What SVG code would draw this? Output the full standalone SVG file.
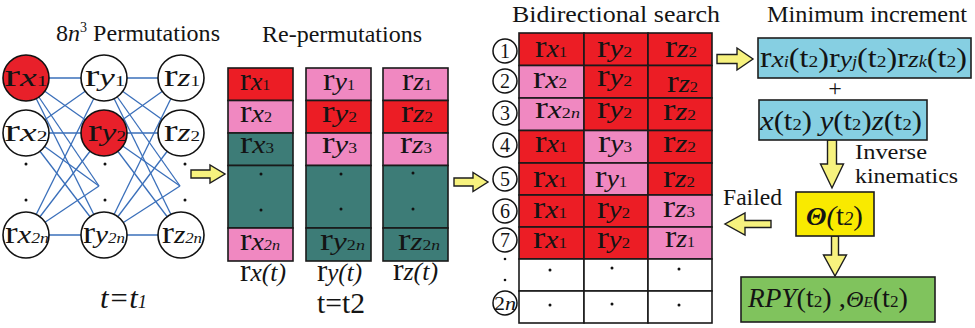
<svg xmlns="http://www.w3.org/2000/svg" width="975" height="328" viewBox="0 0 975 328" font-family="'Liberation Serif','DejaVu Serif',serif">
<style>
text{font-family:'Liberation Serif','DejaVu Serif',serif;fill:#141414}
.ttl{font-size:24px}
.R{font-size:32px}
.V{font-size:26px;font-style:italic}
.S{font-size:15px}
.Si{font-size:15px;font-style:italic}
.nd{fill:#fff;stroke:#111;stroke-width:1.6}
.nr{fill:#e8202a;stroke:#111;stroke-width:1.6}
.e{stroke:#3a6fba;stroke-width:1.3;fill:none}
.cr{fill:#ec1d25}
.cp{fill:#f088c1}
.ct{fill:#3d7c77}
.cw{fill:#fff}
.cell{stroke:#1a1a1a;stroke-width:1.6}
.arw{fill:#f7f27e;stroke:#1e1e1e;stroke-width:1.4;stroke-linejoin:miter}
.num{fill:#fff;stroke:#111;stroke-width:1.5}
.nt{font-size:20px}
.dot{fill:#111}
.bx{stroke:#1e1e1e;stroke-width:1.6}
</style>

<!-- Titles -->
<text class="ttl" x="56" y="41" textLength="164" lengthAdjust="spacingAndGlyphs">8<tspan font-style="italic">n</tspan><tspan dy="-9" font-size="14">3</tspan><tspan dy="9"> Permutations</tspan></text>
<text class="ttl" x="262" y="42" textLength="160" lengthAdjust="spacingAndGlyphs">Re-permutations</text>
<text class="ttl" x="512" y="22" font-size="25" textLength="208" lengthAdjust="spacingAndGlyphs">Bidirectional search</text>
<text class="ttl" x="767" y="22" textLength="200" lengthAdjust="spacingAndGlyphs">Minimum increment</text>

<!-- Connectors -->
<g id="connectors">
  <g id="edges-xy">
    <line class="e" x1="26" y1="78" x2="104" y2="78"/>
    <line class="e" x1="26" y1="78" x2="104" y2="133"/>
    <line class="e" x1="26" y1="78" x2="99" y2="186"/>
    <line class="e" x1="26" y1="78" x2="104" y2="235"/>
    <line class="e" x1="26" y1="133" x2="104" y2="78"/>
    <line class="e" x1="26" y1="133" x2="104" y2="133"/>
    <line class="e" x1="26" y1="133" x2="99" y2="186"/>
    <line class="e" x1="26" y1="133" x2="104" y2="235"/>
    <line class="e" x1="26" y1="235" x2="104" y2="78"/>
    <line class="e" x1="26" y1="235" x2="104" y2="133"/>
    <line class="e" x1="26" y1="235" x2="99" y2="186"/>
    <line class="e" x1="26" y1="235" x2="104" y2="235"/>
  </g>
  <g id="edges-yz">
    <line class="e" x1="104" y1="78" x2="181" y2="78"/>
    <line class="e" x1="104" y1="78" x2="181" y2="133"/>
    <line class="e" x1="104" y1="78" x2="180" y2="186"/>
    <line class="e" x1="104" y1="78" x2="181" y2="235"/>
    <line class="e" x1="104" y1="133" x2="181" y2="78"/>
    <line class="e" x1="104" y1="133" x2="181" y2="133"/>
    <line class="e" x1="104" y1="133" x2="180" y2="186"/>
    <line class="e" x1="104" y1="133" x2="181" y2="235"/>
    <line class="e" x1="104" y1="235" x2="181" y2="78"/>
    <line class="e" x1="104" y1="235" x2="181" y2="133"/>
    <line class="e" x1="104" y1="235" x2="180" y2="186"/>
    <line class="e" x1="104" y1="235" x2="181" y2="235"/>
  </g>
  <path id="arrow-perm" class="arw" d="M191,170 L210,170 L210,165 L225,174 L210,183 L210,178 L191,178 Z"/>
  <path id="arrow-search" class="arw" d="M454,178 L473,178 L473,172.5 L488,182 L473,191.5 L473,186 L454,186 Z"/>
  <path id="arrow-min" class="arw" d="M717,54.5 L737,54.5 L737,48 L753,59 L737,70 L737,63.5 L717,63.5 Z"/>
  <path id="arrow-ik" class="arw" d="M827.5,140 L836.5,140 L836.5,164 L843.5,164 L832,188 L820.5,164 L827.5,164 Z"/>
  <path id="arrow-rpy" class="arw" d="M831.5,236 L838.5,236 L838.5,255 L846.5,255 L835,276 L823.5,255 L831.5,255 Z"/>
  <path id="arrow-failed" class="arw" d="M771,220.5 L745,220.5 L745,213 L725,224 L745,235 L745,227.5 L771,227.5 Z"/>
</g>

<!-- Network nodes -->
<g id="n-rx1"><circle class="nr" cx="26" cy="78" r="23"/><text x="26" y="86" text-anchor="middle" textLength="43" lengthAdjust="spacingAndGlyphs"><tspan class="R">r</tspan><tspan class="V">x</tspan><tspan class="S">1</tspan></text></g>
<g id="n-rx2"><circle class="nd" cx="26" cy="133" r="23"/><text x="26" y="141" text-anchor="middle" textLength="43" lengthAdjust="spacingAndGlyphs"><tspan class="R">r</tspan><tspan class="V">x</tspan><tspan class="S">2</tspan></text></g>
<g id="n-rx2n"><circle class="nd" cx="26" cy="235" r="23"/><text x="27" y="243" text-anchor="middle" textLength="44" lengthAdjust="spacingAndGlyphs"><tspan class="R">r</tspan><tspan class="V">x</tspan><tspan class="Si">2n</tspan></text></g>
<g id="n-ry1"><circle class="nd" cx="104" cy="78" r="23"/><text x="105" y="86" text-anchor="middle" textLength="40" lengthAdjust="spacingAndGlyphs"><tspan class="R">r</tspan><tspan class="V">y</tspan><tspan class="S">1</tspan></text></g>
<g id="n-ry2"><circle class="nr" cx="104" cy="133" r="23"/><text x="107" y="141" text-anchor="middle" textLength="38" lengthAdjust="spacingAndGlyphs"><tspan class="R">r</tspan><tspan class="V">y</tspan><tspan class="S">2</tspan></text></g>
<g id="n-ry2n"><circle class="nd" cx="104" cy="235" r="23"/><text x="104" y="243" text-anchor="middle" textLength="42" lengthAdjust="spacingAndGlyphs"><tspan class="R">r</tspan><tspan class="V">y</tspan><tspan class="Si">2n</tspan></text></g>
<g id="n-rz1"><circle class="nd" cx="181" cy="78" r="23"/><text x="182" y="86" text-anchor="middle" textLength="36" lengthAdjust="spacingAndGlyphs"><tspan class="R">r</tspan><tspan class="V">z</tspan><tspan class="S">1</tspan></text></g>
<g id="n-rz2"><circle class="nd" cx="181" cy="133" r="23"/><text x="182" y="141" text-anchor="middle" textLength="36" lengthAdjust="spacingAndGlyphs"><tspan class="R">r</tspan><tspan class="V">z</tspan><tspan class="S">2</tspan></text></g>
<g id="n-rz2n"><circle class="nd" cx="181" cy="235" r="23"/><text x="182" y="243" text-anchor="middle" textLength="40" lengthAdjust="spacingAndGlyphs"><tspan class="R">r</tspan><tspan class="V">z</tspan><tspan class="Si">2n</tspan></text></g>
<g id="net-dots">
  <circle class="dot" cx="26" cy="164" r="1.5"/><circle class="dot" cx="26" cy="200" r="1.5"/>
  <circle class="dot" cx="105" cy="164" r="1.5"/><circle class="dot" cx="105" cy="200" r="1.5"/>
  <circle class="dot" cx="185" cy="164" r="1.5"/><circle class="dot" cx="185" cy="200" r="1.5"/>
</g>
<text x="100" y="308" font-size="30" font-style="italic" textLength="47" lengthAdjust="spacingAndGlyphs">t=t<tspan font-size="18">1</tspan></text>

<!-- Re-permutation columns -->
<g id="col-rx">
  <rect class="cell cr" x="228" y="68" width="65" height="32.5"/>
  <rect class="cell cp" x="228" y="100.5" width="65" height="32.5"/>
  <rect class="cell ct" x="228" y="133" width="65" height="32.5"/>
  <rect class="cell ct" x="228" y="165.5" width="65" height="62.5"/>
  <rect class="cell cp" x="228" y="228" width="65" height="33"/>
  <text x="240" y="90" textLength="30" lengthAdjust="spacingAndGlyphs"><tspan class="R">r</tspan><tspan class="V">x</tspan><tspan class="S">1</tspan></text>
  <text x="240" y="122" textLength="32" lengthAdjust="spacingAndGlyphs"><tspan class="R">r</tspan><tspan class="V">x</tspan><tspan class="S">2</tspan></text>
  <text x="240" y="153" textLength="34" lengthAdjust="spacingAndGlyphs"><tspan class="R">r</tspan><tspan class="V">x</tspan><tspan class="S">3</tspan></text>
  <circle class="dot" cx="261" cy="174" r="1.5"/><circle class="dot" cx="261" cy="210" r="1.5"/>
  <text x="240" y="250" textLength="40" lengthAdjust="spacingAndGlyphs"><tspan class="R">r</tspan><tspan class="V">x</tspan><tspan class="Si">2n</tspan></text>
  <text x="240" y="281" textLength="46" lengthAdjust="spacingAndGlyphs"><tspan class="R">r</tspan><tspan class="V">x(t)</tspan></text>
</g>
<g id="col-ry">
  <rect class="cell cp" x="306" y="68" width="65" height="32.5"/>
  <rect class="cell cr" x="306" y="100.5" width="65" height="32.5"/>
  <rect class="cell cp" x="306" y="133" width="65" height="32.5"/>
  <rect class="cell ct" x="306" y="165.5" width="65" height="62.5"/>
  <rect class="cell ct" x="306" y="228" width="65" height="33"/>
  <text x="323" y="90" textLength="32" lengthAdjust="spacingAndGlyphs"><tspan class="R">r</tspan><tspan class="V">y</tspan><tspan class="S">1</tspan></text>
  <text x="322" y="122" textLength="35" lengthAdjust="spacingAndGlyphs"><tspan class="R">r</tspan><tspan class="V">y</tspan><tspan class="S">2</tspan></text>
  <text x="322" y="153" textLength="35" lengthAdjust="spacingAndGlyphs"><tspan class="R">r</tspan><tspan class="V">y</tspan><tspan class="S">3</tspan></text>
  <circle class="dot" cx="341" cy="174" r="1.5"/><circle class="dot" cx="341" cy="209" r="1.5"/>
  <text x="320" y="250" textLength="45" lengthAdjust="spacingAndGlyphs"><tspan class="R">r</tspan><tspan class="V">y</tspan><tspan class="S">2</tspan><tspan class="Si">n</tspan></text>
  <text x="317" y="281" textLength="45" lengthAdjust="spacingAndGlyphs"><tspan class="R">r</tspan><tspan class="V">y(t)</tspan></text>
</g>
<g id="col-rz">
  <rect class="cell cp" x="383" y="68" width="65" height="32.5"/>
  <rect class="cell cr" x="383" y="100.5" width="65" height="32.5"/>
  <rect class="cell cp" x="383" y="133" width="65" height="32.5"/>
  <rect class="cell ct" x="383" y="165.5" width="65" height="62.5"/>
  <rect class="cell ct" x="383" y="228" width="65" height="33"/>
  <text x="402" y="90" textLength="30" lengthAdjust="spacingAndGlyphs"><tspan class="R">r</tspan><tspan class="V">z</tspan><tspan class="S">1</tspan></text>
  <text x="401" y="122" textLength="32" lengthAdjust="spacingAndGlyphs"><tspan class="R">r</tspan><tspan class="V">z</tspan><tspan class="S">2</tspan></text>
  <text x="400" y="153" textLength="32" lengthAdjust="spacingAndGlyphs"><tspan class="R">r</tspan><tspan class="V">z</tspan><tspan class="S">3</tspan></text>
  <circle class="dot" cx="413" cy="173" r="1.5"/><circle class="dot" cx="413" cy="209" r="1.5"/>
  <text x="398" y="250" textLength="42" lengthAdjust="spacingAndGlyphs"><tspan class="R">r</tspan><tspan class="V">z</tspan><tspan class="S">2</tspan><tspan class="Si">n</tspan></text>
  <text x="393" y="280" textLength="45" lengthAdjust="spacingAndGlyphs"><tspan class="R">r</tspan><tspan class="V">z(t)</tspan></text>
</g>
<text x="317" y="313" font-size="30" textLength="48" lengthAdjust="spacingAndGlyphs">t=t2</text>

<!-- Bidirectional search table -->
<g id="search-table">
  <rect class="cell cr" x="519" y="33" width="65" height="32.5"/><rect class="cell cr" x="584" y="33" width="64" height="32.5"/><rect class="cell cr" x="648" y="33" width="64" height="32.5"/>
  <rect class="cell cp" x="519" y="65.5" width="65" height="32.5"/><rect class="cell cr" x="584" y="65.5" width="64" height="32.5"/><rect class="cell cr" x="648" y="65.5" width="64" height="32.5"/>
  <rect class="cell cp" x="519" y="98" width="65" height="32.5"/><rect class="cell cr" x="584" y="98" width="64" height="32.5"/><rect class="cell cr" x="648" y="98" width="64" height="32.5"/>
  <rect class="cell cr" x="519" y="130.5" width="65" height="32.5"/><rect class="cell cp" x="584" y="130.5" width="64" height="32.5"/><rect class="cell cr" x="648" y="130.5" width="64" height="32.5"/>
  <rect class="cell cr" x="519" y="163" width="65" height="32"/><rect class="cell cp" x="584" y="163" width="64" height="32"/><rect class="cell cr" x="648" y="163" width="64" height="32"/>
  <rect class="cell cr" x="519" y="195" width="65" height="32"/><rect class="cell cr" x="584" y="195" width="64" height="32"/><rect class="cell cp" x="648" y="195" width="64" height="32"/>
  <rect class="cell cr" x="519" y="227" width="65" height="32"/><rect class="cell cr" x="584" y="227" width="64" height="32"/><rect class="cell cp" x="648" y="227" width="64" height="32"/>
  <rect class="cell cw" x="519" y="259" width="65" height="32"/><rect class="cell cw" x="584" y="259" width="64" height="32"/><rect class="cell cw" x="648" y="259" width="64" height="32"/>
  <rect class="cell cw" x="519" y="291" width="65" height="32"/><rect class="cell cw" x="584" y="291" width="64" height="32"/><rect class="cell cw" x="648" y="291" width="64" height="32"/>

  <text x="535" y="57" textLength="32" lengthAdjust="spacingAndGlyphs"><tspan class="R">r</tspan><tspan class="V">x</tspan><tspan class="S">1</tspan></text>
  <text x="597" y="57" textLength="35" lengthAdjust="spacingAndGlyphs"><tspan class="R">r</tspan><tspan class="V">y</tspan><tspan class="S">2</tspan></text>
  <text x="665" y="57" textLength="32" lengthAdjust="spacingAndGlyphs"><tspan class="R">r</tspan><tspan class="V">z</tspan><tspan class="S">2</tspan></text>

  <text x="533" y="88" textLength="34" lengthAdjust="spacingAndGlyphs"><tspan class="R">r</tspan><tspan class="V">x</tspan><tspan class="S">2</tspan></text>
  <text x="597" y="86" textLength="35" lengthAdjust="spacingAndGlyphs"><tspan class="R">r</tspan><tspan class="V">y</tspan><tspan class="S">2</tspan></text>
  <text x="667" y="92" textLength="31" lengthAdjust="spacingAndGlyphs"><tspan class="R">r</tspan><tspan class="V">z</tspan><tspan class="S">2</tspan></text>

  <text x="535" y="118" textLength="45" lengthAdjust="spacingAndGlyphs"><tspan class="R">r</tspan><tspan class="V">x</tspan><tspan class="S">2</tspan><tspan class="Si">n</tspan></text>
  <text x="597" y="118" textLength="35" lengthAdjust="spacingAndGlyphs"><tspan class="R">r</tspan><tspan class="V">y</tspan><tspan class="S">2</tspan></text>
  <text x="663" y="120" textLength="33" lengthAdjust="spacingAndGlyphs"><tspan class="R">r</tspan><tspan class="V">z</tspan><tspan class="S">2</tspan></text>

  <text x="535" y="152" textLength="32" lengthAdjust="spacingAndGlyphs"><tspan class="R">r</tspan><tspan class="V">x</tspan><tspan class="S">1</tspan></text>
  <text x="598" y="152" textLength="34" lengthAdjust="spacingAndGlyphs"><tspan class="R">r</tspan><tspan class="V">y</tspan><tspan class="S">3</tspan></text>
  <text x="663" y="152" textLength="33" lengthAdjust="spacingAndGlyphs"><tspan class="R">r</tspan><tspan class="V">z</tspan><tspan class="S">2</tspan></text>

  <text x="533" y="187" textLength="34" lengthAdjust="spacingAndGlyphs"><tspan class="R">r</tspan><tspan class="V">x</tspan><tspan class="S">1</tspan></text>
  <text x="595" y="187" textLength="32" lengthAdjust="spacingAndGlyphs"><tspan class="R">r</tspan><tspan class="V">y</tspan><tspan class="S">1</tspan></text>
  <text x="663" y="187" textLength="32" lengthAdjust="spacingAndGlyphs"><tspan class="R">r</tspan><tspan class="V">z</tspan><tspan class="S">2</tspan></text>

  <text x="533" y="218" textLength="34" lengthAdjust="spacingAndGlyphs"><tspan class="R">r</tspan><tspan class="V">x</tspan><tspan class="S">1</tspan></text>
  <text x="597" y="218" textLength="33" lengthAdjust="spacingAndGlyphs"><tspan class="R">r</tspan><tspan class="V">y</tspan><tspan class="S">2</tspan></text>
  <text x="663" y="217" textLength="32" lengthAdjust="spacingAndGlyphs"><tspan class="R">r</tspan><tspan class="V">z</tspan><tspan class="S">3</tspan></text>

  <text x="533" y="248" textLength="34" lengthAdjust="spacingAndGlyphs"><tspan class="R">r</tspan><tspan class="V">x</tspan><tspan class="S">1</tspan></text>
  <text x="597" y="248" textLength="33" lengthAdjust="spacingAndGlyphs"><tspan class="R">r</tspan><tspan class="V">y</tspan><tspan class="S">2</tspan></text>
  <text x="665" y="247" textLength="30" lengthAdjust="spacingAndGlyphs"><tspan class="R">r</tspan><tspan class="V">z</tspan><tspan class="S">1</tspan></text>

  <circle class="dot" cx="550" cy="270" r="1.5"/><circle class="dot" cx="612" cy="268" r="1.5"/><circle class="dot" cx="679" cy="269" r="1.5"/>
  <circle class="dot" cx="550" cy="305" r="1.5"/><circle class="dot" cx="612" cy="304" r="1.5"/><circle class="dot" cx="679" cy="305" r="1.5"/>
</g>

<g id="row-numbers">
  <g id="num-1"><circle class="num" cx="505" cy="51" r="12"/><text class="nt" x="505" y="58" text-anchor="middle">1</text></g>
  <g id="num-2"><circle class="num" cx="505" cy="81" r="12"/><text class="nt" x="505" y="88" text-anchor="middle">2</text></g>
  <g id="num-3"><circle class="num" cx="505" cy="113" r="12"/><text class="nt" x="505" y="120" text-anchor="middle">3</text></g>
  <g id="num-4"><circle class="num" cx="505" cy="145" r="12"/><text class="nt" x="505" y="152" text-anchor="middle">4</text></g>
  <g id="num-5"><circle class="num" cx="505" cy="179" r="12"/><text class="nt" x="505" y="186" text-anchor="middle">5</text></g>
  <g id="num-6"><circle class="num" cx="505" cy="211" r="12"/><text class="nt" x="505" y="218" text-anchor="middle">6</text></g>
  <g id="num-7"><circle class="num" cx="505" cy="240" r="12"/><text class="nt" x="505" y="247" text-anchor="middle">7</text></g>
  <circle class="dot" cx="505" cy="259" r="1.3"/><circle class="dot" cx="505" cy="280" r="1.3"/>
  <g id="num-2n"><circle class="num" cx="505" cy="303" r="12"/><text x="505" y="310" text-anchor="middle" font-size="19" textLength="22" lengthAdjust="spacingAndGlyphs">2<tspan font-style="italic">n</tspan></text></g>
</g>

<!-- Right side boxes -->
<g id="box-min">
  <rect class="bx" x="758" y="38" width="213" height="40" fill="#86cfe2"/>
  <text x="760" y="67" textLength="207" lengthAdjust="spacingAndGlyphs"><tspan font-size="30">r</tspan><tspan font-size="24" font-style="italic">x</tspan><tspan font-size="16" font-style="italic">i</tspan><tspan font-size="28">(t</tspan><tspan font-size="17">2</tspan><tspan font-size="28">)r</tspan><tspan font-size="24" font-style="italic">y</tspan><tspan font-size="16" font-style="italic">j</tspan><tspan font-size="28">(t</tspan><tspan font-size="17">2</tspan><tspan font-size="28">)r</tspan><tspan font-size="24" font-style="italic">z</tspan><tspan font-size="16" font-style="italic">k</tspan><tspan font-size="28">(t</tspan><tspan font-size="17">2</tspan><tspan font-size="28">)</tspan></text>
</g>
<text x="835" y="96" font-size="24" text-anchor="middle">+</text>
<g id="box-xyz">
  <rect class="bx" x="759" y="100" width="168" height="40" fill="#86cfe2"/>
  <text x="760" y="130" textLength="162" lengthAdjust="spacingAndGlyphs"><tspan font-size="28" font-style="italic">x</tspan><tspan font-size="28">(t</tspan><tspan font-size="17">2</tspan><tspan font-size="28">) </tspan><tspan font-size="28" font-style="italic">y</tspan><tspan font-size="28">(t</tspan><tspan font-size="17">2</tspan><tspan font-size="28">)</tspan><tspan font-size="28" font-style="italic">z</tspan><tspan font-size="28">(t</tspan><tspan font-size="17">2</tspan><tspan font-size="28">)</tspan></text>
</g>
<text x="855" y="159" font-size="22" textLength="72" lengthAdjust="spacingAndGlyphs">Inverse</text>
<text x="855" y="183" font-size="22" textLength="103" lengthAdjust="spacingAndGlyphs">kinematics</text>
<text x="723" y="205" font-size="23" textLength="59" lengthAdjust="spacingAndGlyphs">Failed</text>
<g id="box-theta">
  <rect class="bx" x="796" y="192" width="78" height="44" fill="#f9ea00"/>
  <text x="806" y="225" textLength="57" lengthAdjust="spacingAndGlyphs"><tspan font-size="26" font-weight="bold" font-style="italic">Θ</tspan><tspan font-size="28" font-style="italic">(</tspan><tspan font-size="28">t</tspan><tspan font-size="18" font-style="italic">2</tspan><tspan font-size="28">)</tspan></text>
</g>
<g id="box-rpy">
  <rect class="bx" x="741" y="277" width="194" height="45" fill="#80c35d"/>
  <text x="748" y="307" textLength="160" lengthAdjust="spacingAndGlyphs"><tspan font-size="27" font-style="italic">RPY</tspan><tspan font-size="28">(t</tspan><tspan font-size="17">2</tspan><tspan font-size="28">) ,</tspan><tspan font-size="24" font-style="italic">Θ</tspan><tspan font-size="15" font-style="italic">E</tspan><tspan font-size="28">(t</tspan><tspan font-size="17">2</tspan><tspan font-size="28">)</tspan></text>
</g>
</svg>
